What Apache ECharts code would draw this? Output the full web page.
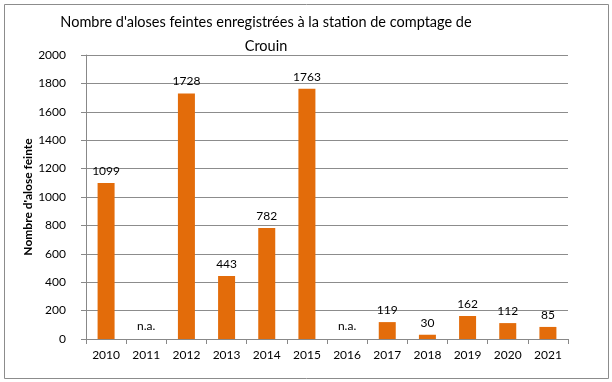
<!DOCTYPE html>
<html><head><meta charset="utf-8">
<script src="https://cdn.jsdelivr.net/npm/echarts@6/dist/echarts.min.js"></script>
<style>html,body{margin:0;padding:0;background:#fff}#c{width:612px;height:382px}</style>
</head><body><div id="c"></div>
<script>
const years = ['2010','2011','2012','2013','2014','2015','2016','2017','2018','2019','2020','2021'];
const counts = [1099, null, 1728, 443, 782, 1763, null, 119, 30, 162, 112, 85];
const naFlags = [null, 0, null, null, null, null, 0, null, null, null, null, null];
const yTicks = [0, 200, 400, 600, 800, 1000, 1200, 1400, 1600, 1800, 2000];

const chart = echarts.init(document.getElementById('c'), null, {renderer:'canvas'});
const font = 'Lato, "Open Sans", sans-serif';
chart.setOption({
  animation:false,
  backgroundColor:'#fff',
  graphic:[{type:'rect', shape:{x:4.5,y:4.5,width:604,height:374}, style:{fill:'none', stroke:'#8c8c8c', lineWidth:1}}],
  title:{text:"Nombre d'aloses feintes enregistrées à la station de comptage de\nCrouin", left:261, textAlign:'center', top:5,
    textStyle:{fontFamily:font, fontSize:14.5, fontWeight:'normal', color:'#000', lineHeight:24}},
  grid:{left:86, right:44, top:55, bottom:43},
  xAxis:{type:'category', data:years,
    axisLine:{lineStyle:{color:'#888'}},
    axisTick:{show:true, length:5, lineStyle:{color:'#888'}},
    axisLabel:{fontFamily:font, fontSize:12, color:'#000', margin:10}},
  yAxis:{type:'value', min:yTicks[0], max:yTicks[yTicks.length-1], interval:200,
    name:"Nombre d'alose feinte", nameLocation:'middle', nameGap:52, nameRotate:90, nameMoveOverlap:false,
    nameTextStyle:{fontFamily:font, fontSize:12, fontWeight:'bold', color:'#000'},
    axisLine:{show:true, lineStyle:{color:'#888'}},
    axisTick:{show:true, length:5, lineStyle:{color:'#888'}},
    splitLine:{lineStyle:{color:'#8c8c8c', width:1}},
    axisLabel:{fontFamily:font, fontSize:12, color:'#000', margin:20, formatter:v=>String(v)}},
  series:[
    {type:'bar', data:counts, barWidth:17, itemStyle:{color:'#E36C0A'},
     label:{show:true, position:'top', distance:6, fontFamily:font, fontSize:12, color:'#000'}},
    {type:'bar', data:naFlags, barWidth:17, barGap:'-100%', itemStyle:{color:'transparent'},
     label:{show:true, position:'top', distance:7, formatter:'n.a.', fontFamily:font, fontSize:12, color:'#000'}}
  ]
});
</script></body></html>
